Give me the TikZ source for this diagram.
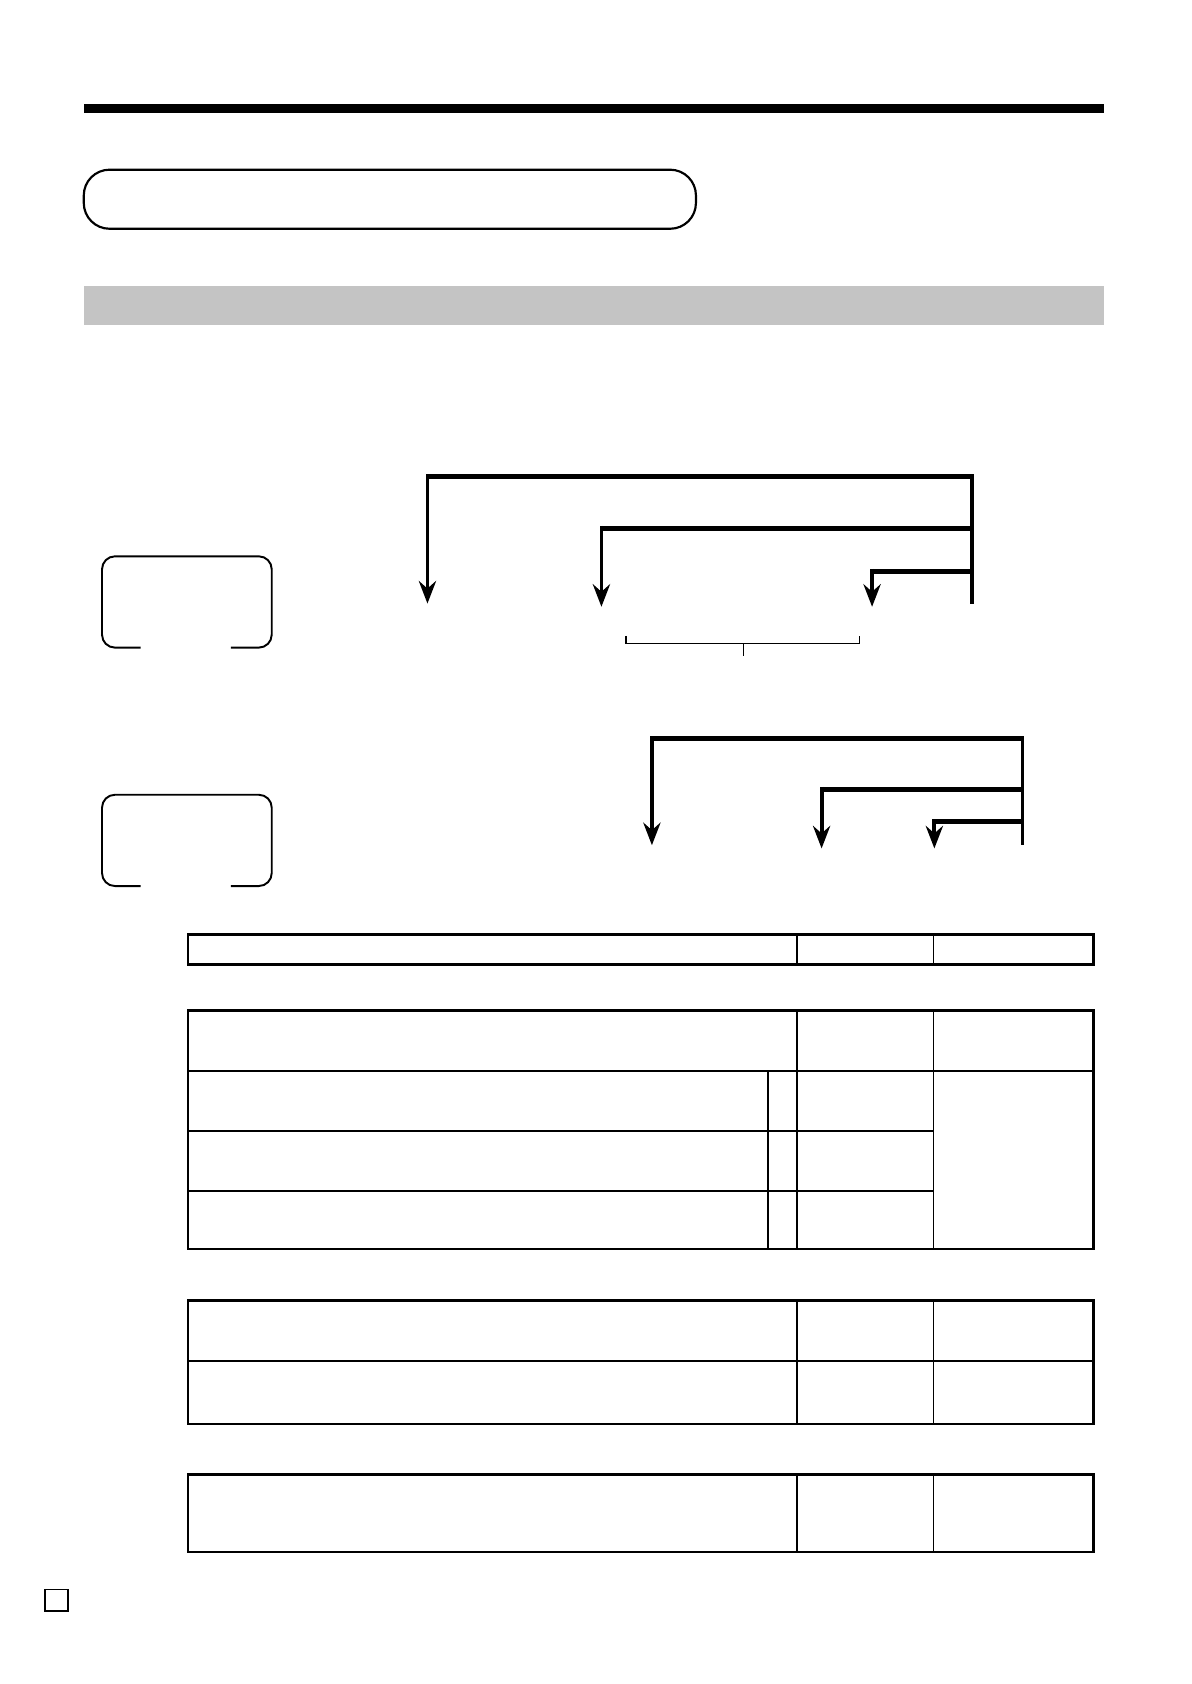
\documentclass[tikz,border=0pt]{standalone}
\usetikzlibrary{arrows.meta}
\begin{document}
\begin{tikzpicture}[x=0.5pt, y=-0.5pt,
		bus/.style={line width=2.4pt},
		trunk/.style={line width=1.8pt, shorten <=-1.2pt},
		drop/.style={line width=1.8pt, shorten <=-1.2pt, -{Stealth[length=10.5pt, width=8pt, inset=3.5pt]}},
		frame/.style={line width=1.1pt},
		rowline/.style={line width=1pt},
		rule/.style={line width=0.6pt}]
		
		\useasboundingbox (0,0) rectangle (1109,1568);
		
		% Header
		\fill (78,97) rectangle (1028,105);
		\draw[line width=1pt, rounded corners=12pt] (78,158) rectangle (648,213);
		\fill[black!23] (78,266) rectangle (1028,303);
		
		% Displays
		\foreach \dy in {0, 222} {
			\draw[line width=0.9pt, rounded corners=6pt] (131,603+\dy) -- (95,603+\dy) -- (95,518+\dy) -- (253,518+\dy) -- (253,603+\dy) -- (215,603+\dy);
		}
		
		% Upper flow
		\coordinate (topA) at (905,444);
		\coordinate (endA) at (905,562);
		\draw[trunk] (topA) -- (endA);
		\foreach \x/\y/\t/\n in {398/444/562/1, 560/492/565/2, 812/532/565/3} {
			\coordinate (srcA\n) at (\x,\y);
			\coordinate (joinA\n) at (905,\y);
			\coordinate (tipA\n) at (\x,\t);
			\draw[bus] (srcA\n) -- (joinA\n);
			\draw[drop] (srcA\n) -- (tipA\n);
		}
		% Bracket
		\draw[rule] (583,592) -- (583,599) -- (800,599) -- (800,592);
		\draw[rule] (692,599) -- (692,611);
		
		% Lower flow
		\coordinate (topB) at (952,688);
		\coordinate (endB) at (952,787);
		\draw[trunk] (topB) -- (endB);
		\foreach \x/\y/\t/\n in {607/688/787/1, 765/735/790/2, 870/765/790/3} {
			\coordinate (srcB\n) at (\x,\y);
			\coordinate (joinB\n) at (952,\y);
			\coordinate (tipB\n) at (\x,\t);
			\draw[bus] (srcB\n) -- (joinB\n);
			\draw[drop] (srcB\n) -- (tipB\n);
		}
		
		% Tables
		\draw[frame] (175,870) rectangle (1018,898);
		\draw[rule] (742,870) -- (742,898) (869,870) -- (869,898);
		
		\draw[frame] (175,941) rectangle (1018,1163);
		\draw[rowline] (175,997) -- (1018,997);
		\draw[rule] (175,1053) -- (869,1053) (175,1109) -- (869,1109);
		\draw[rule] (742,941) -- (742,1163) (869,941) -- (869,1163) (715,997) -- (715,1163);
		
		\draw[frame] (175,1211) rectangle (1018,1326);
		\draw[rowline] (175,1267) -- (1018,1267);
		\draw[rule] (742,1211) -- (742,1326) (869,1211) -- (869,1326);
		
		\draw[frame] (175,1373) rectangle (1018,1445);
		\draw[rule] (742,1373) -- (742,1445) (869,1373) -- (869,1445);
		
		% Page mark
		\draw[line width=0.8pt] (42,1480) rectangle (63,1500);
		
	\end{tikzpicture}
\end{document}
